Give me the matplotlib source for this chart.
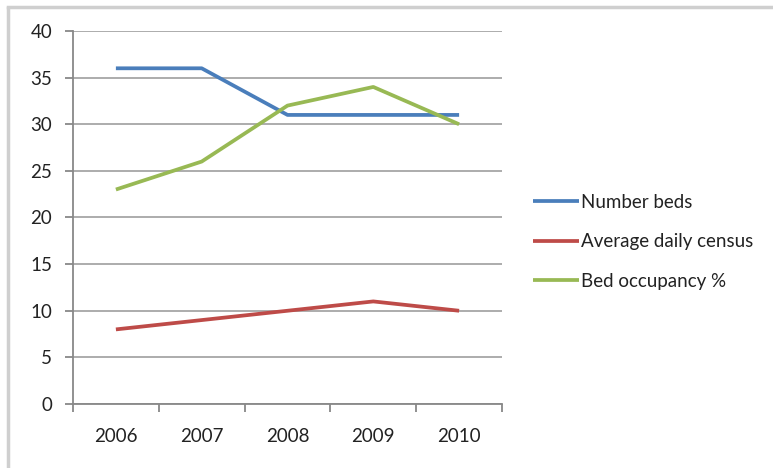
import matplotlib
matplotlib.use("Agg")
import matplotlib.pyplot as plt
from matplotlib.lines import Line2D

years = ["2006", "2007", "2008", "2009", "2010"]
number_beds = [36, 36, 31, 31, 31]
avg_daily_census = [8, 9, 10, 11, 10]
bed_occupancy = [23, 26, 32, 34, 30]
series_names = ["Number beds", "Average daily census", "Bed occupancy %"]
colors = ["#4A7EBB", "#BE4B48", "#98B954"]
yticks = [0, 5, 10, 15, 20, 25, 30, 35, 40]

plt.rcParams['font.family'] = ['Lato', 'DejaVu Sans']

W, H = 773, 468
FS = 13.5
fig = plt.figure(figsize=(W / 100, H / 100), dpi=100)
fig.patch.set_facecolor("white")

# outer chart frame
fig.add_artist(Line2D([8 / W, 8 / W], [0, 1 - 8 / H], transform=fig.transFigure,
                      color="#cfcfcf", lw=2.5))
fig.add_artist(Line2D([8 / W, 1], [1 - 7 / H, 1 - 7 / H], transform=fig.transFigure,
                      color="#cfcfcf", lw=2.5))

ax = fig.add_axes([73 / W, 1 - 404 / H, (502 - 73) / W, (404 - 31) / H])
x = list(range(len(years)))
for vals, name, c in zip([number_beds, avg_daily_census, bed_occupancy], series_names, colors):
    ax.plot(x, vals, color=c, lw=2.7, label=name, solid_capstyle="butt", zorder=3)

ax.set_xlim(-0.5, len(years) - 0.5)
ax.set_ylim(0, 40)
ax.set_yticks(yticks)
ax.set_yticklabels([str(v) for v in yticks], fontsize=FS, color="#222222")
ax.yaxis.grid(True, color="#a6a6a6", lw=1.3, zorder=0)
ax.set_axisbelow(True)

ax.set_xticks([i - 0.5 for i in range(len(years) + 1)])
ax.set_xticklabels([])
ax.set_xticks(x, minor=True)
ax.set_xticklabels(years, minor=True, fontsize=FS, color="#222222")
ax.tick_params(axis="x", which="minor", length=0, pad=17)
ax.tick_params(axis="x", which="major", length=6, width=1.3, color="#888888", direction="out")
ax.tick_params(axis="y", length=6, width=1.3, color="#888888", direction="out", pad=9)

for s in ["top", "right"]:
    ax.spines[s].set_visible(False)
for s in ["left", "bottom"]:
    ax.spines[s].set_color("#888888")
    ax.spines[s].set_linewidth(1.3)

leg = ax.legend(loc="center left", bbox_to_anchor=(524 / W, 1 - 242 / H),
                bbox_transform=fig.transFigure, frameon=False, fontsize=FS,
                handlelength=2.45, handletextpad=0.1, labelspacing=1.2, borderpad=0)
for t in leg.get_texts():
    t.set_color("#222222")

fig.savefig("out.png", dpi=100)
